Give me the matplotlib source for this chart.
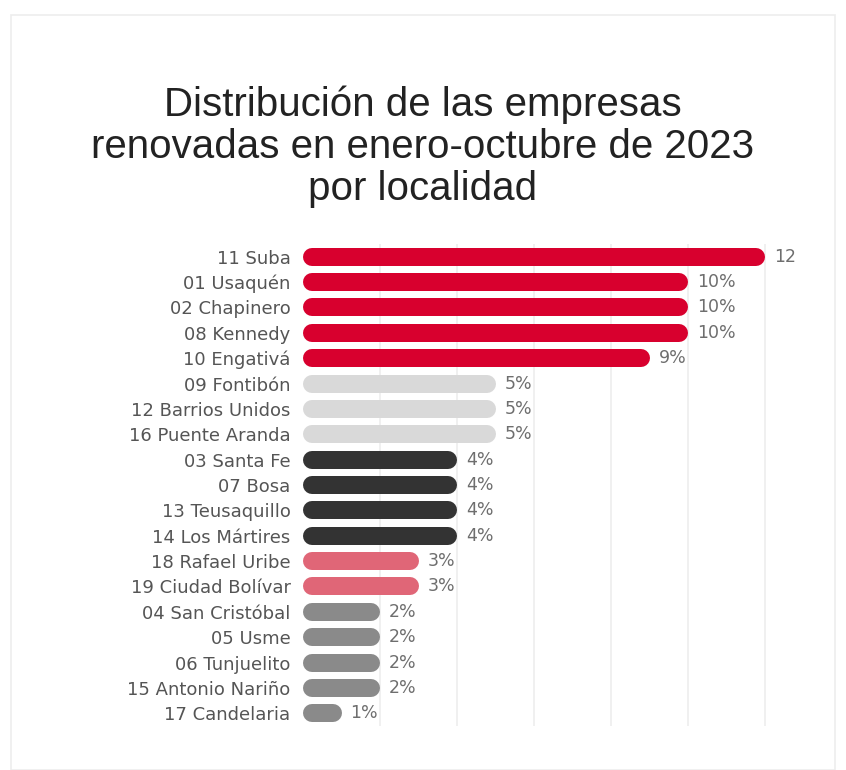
import matplotlib.pyplot as plt
from matplotlib.patches import FancyBboxPatch

localidades = ["11 Suba", "01 Usaquén", "02 Chapinero", "08 Kennedy", "10 Engativá",
               "09 Fontibón", "12 Barrios Unidos", "16 Puente Aranda", "03 Santa Fe",
               "07 Bosa", "13 Teusaquillo", "14 Los Mártires", "18 Rafael Uribe",
               "19 Ciudad Bolívar", "04 San Cristóbal", "05 Usme", "06 Tunjuelito",
               "15 Antonio Nariño", "17 Candelaria"]
porcentajes = [12, 10, 10, 10, 9, 5, 5, 5, 4, 4, 4, 4, 3, 3, 2, 2, 2, 2, 1]
colores = ["#D8002E"] * 5 + ["#D9D9D9"] * 3 + ["#333333"] * 4 + ["#E06677"] * 2 + ["#8A8A8A"] * 5

W, H = 846, 770
fig = plt.figure(figsize=(W / 100, H / 100), dpi=100)
fig.patch.set_facecolor("white")

# tarjeta de fondo
card = FancyBboxPatch((11 / W, 0), (835 - 11) / W, (H - 15) / H,
                      boxstyle="square,pad=0", transform=fig.transFigure,
                      facecolor="white", edgecolor="#EDEDED", lw=1.2, zorder=-10)
fig.patches.append(card)

fig.text(0.5, 1 - 86 / H, "Distribución de las empresas\nrenovadas en enero-octubre de 2023\npor localidad",
         ha="center", va="top", fontsize=29, color="#222222",
         family="Liberation Sans", linespacing=1.12)

left, right = 303, 797
top, bottom = 244, 726
ax = fig.add_axes([left / W, 1 - bottom / H, (right - left) / W, (bottom - top) / H])
ax.patch.set_alpha(0)
px_per_unit = 38.5
ax.set_xlim(0, (right - left) / px_per_unit)
ax.set_ylim(len(localidades) - 0.5, -0.5)

for s in ax.spines.values():
    s.set_visible(False)
ax.set_xticks([2, 4, 6, 8, 10, 12])
ax.tick_params(axis="x", length=0, labelbottom=False)
ax.grid(axis="x", color="#EEEEEE", lw=1.2)
ax.set_axisbelow(True)

ax.set_yticks(range(len(localidades)))
ax.set_yticklabels(localidades, fontsize=13, color="#555555", family="DejaVu Sans")
ax.tick_params(axis="y", length=0, pad=9)

# barras con extremos redondeados
bar_px = 18
r = bar_px / 2 / px_per_unit
for i, (v, c) in enumerate(zip(porcentajes, colores)):
    ax.plot([r, v - r], [i, i], color=c, lw=bar_px * 0.72,
            solid_capstyle="round", zorder=3)
    ax.text(v + 9 / px_per_unit, i, f"{v}%", ha="left", va="center",
            fontsize=12.5, color="#6E6E6E", family="DejaVu Sans", clip_on=True,
            zorder=4)

fig.savefig("out.png", dpi=100, facecolor="white")
